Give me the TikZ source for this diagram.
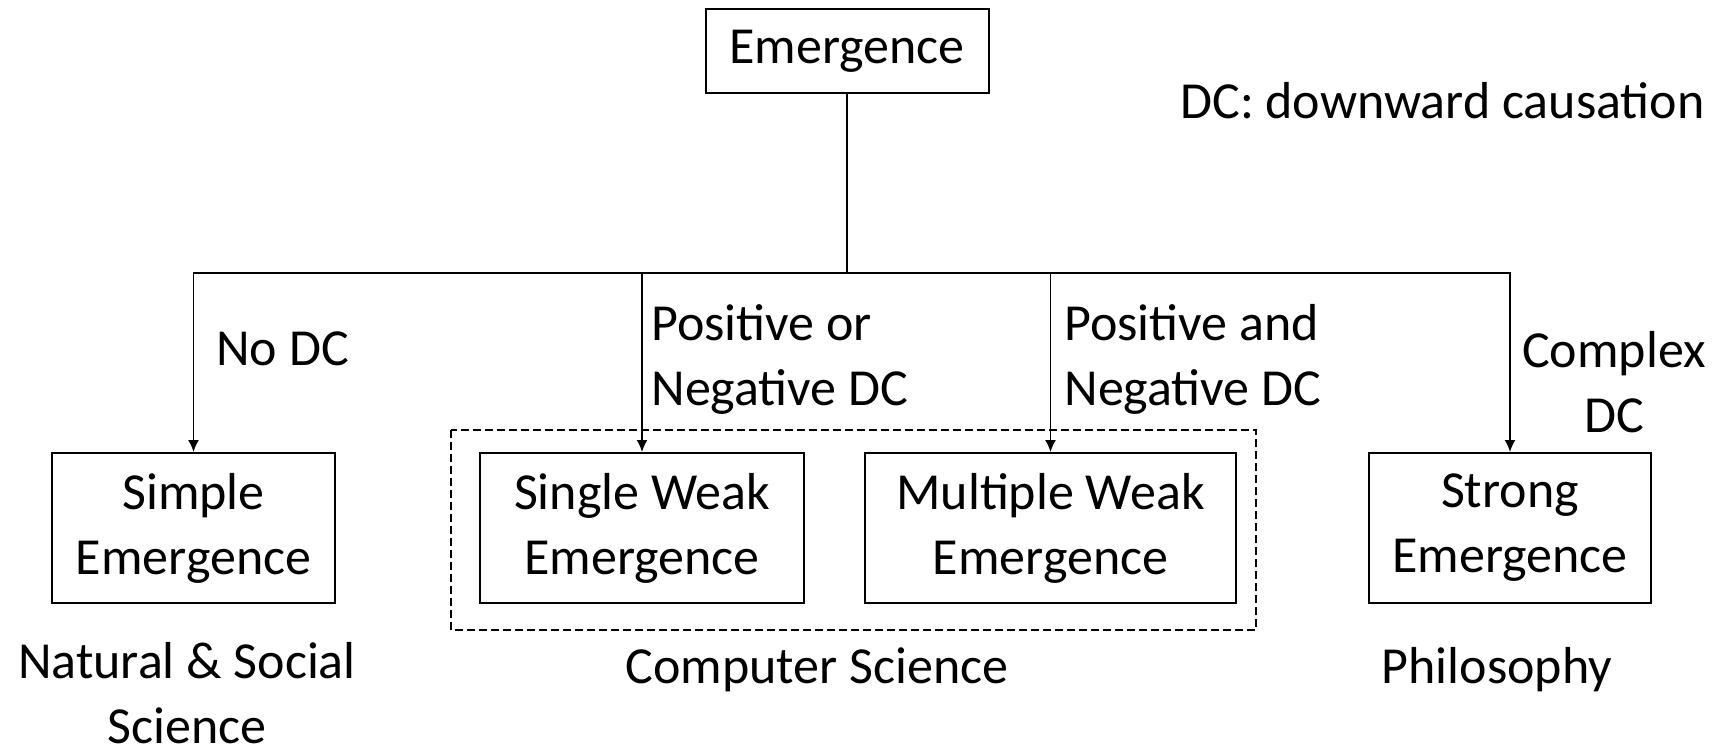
\documentclass[tikz,border=0pt]{standalone}
\usepackage{fontspec}
\setmainfont{Carlito}
\usepackage{tikz}
\usetikzlibrary{arrows.meta,positioning}
\tikzset{
  >={Latex[length=6pt,width=5.5pt]},
  flow/.style={->,line width=0.8pt,draw=black},
  link/.style={line width=0.8pt,draw=black},
  box/.style={draw=black,line width=1pt,align=center,inner sep=2pt},
  groupbox/.style={draw=black,line width=0.8pt,dash pattern=on 4pt off 2pt},
  note/.style={inner sep=0pt,align=center},
  leftnote/.style={inner sep=0pt,align=left,anchor=west}
}
\begin{document}
\begin{tikzpicture}[x=0.5pt,y=-0.5pt,font=\fontsize{26}{32.5}\selectfont]
    \useasboundingbox (0,0) rectangle (1722,753);

    % top concept
    \node[box,minimum width=141.5pt,minimum height=42pt] (emergence) at (847,51) {Emergence};
    \node[note,anchor=east] (legend) at (1705,101) {DC: downward causation};

    % kinds of emergence
    \node[box,minimum width=141.5pt,minimum height=75pt] (simple) at (193.5,528) {Simple\\Emergence};
    \node[box,minimum width=162pt,minimum height=75pt] (single) at (642,528) {Single Weak\\Emergence};
    \node[box,minimum width=185.5pt,minimum height=75pt] (multiple) at (1050.5,528) {Multiple Weak\\Emergence};
    \node[box,minimum width=141pt,minimum height=75pt] (strong) at (1510,528) {Strong\\Emergence};
    \draw[groupbox] (451,430) rectangle (1256,630);

    % branches
    \coordinate (bus) at (847,273);
    \draw[link] (emergence) -- (bus);
    \draw[flow] (bus) -| (simple.north);
    \draw[flow] (bus) -| (single.north);
    \draw[flow] (bus) -| (multiple.north);
    \draw[flow] (bus) -| (strong.north);

    \node[leftnote] (nodc) at (216,349) {No DC};
    \node[leftnote] (ordc) at (651,359) {Positive or\\Negative DC};
    \node[leftnote] (anddc) at (1064,359) {Positive and\\Negative DC};
    \node[note] (complexdc) at (1614,382) {Complex\\DC};

    % fields
    \node[note] (natural) at (187,693) {Natural \& Social\\Science};
    \node[note] (computer) at (817,670) {Computer Science};
    \node[note] (philosophy) at (1497,670) {Philosophy};
  \end{tikzpicture}
\end{document}
